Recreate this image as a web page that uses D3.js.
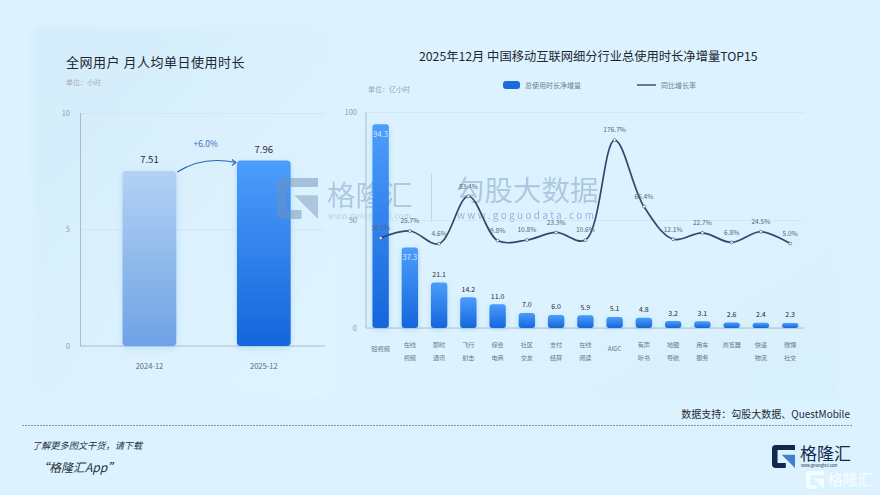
<!DOCTYPE html>
<html>
<head>
<meta charset="utf-8">
<script src="https://cdn.jsdelivr.net/npm/d3@7"></script>
<style>
html, body { margin: 0; padding: 0; background: #dcf3ff; }
svg { display: block; }
text { font-family: "Noto Sans CJK SC", "Noto Sans", sans-serif; }
</style>
</head>
<body>
<div id="canvas"></div>
<script>
// left chart
const months = ["2024-12", "2025-12"];
const hours = [7.51, 7.96];
const hourTicks = [0, 5, 10];

// right chart
const industries = ["短视频", "在线视频", "即时通讯", "飞行射击", "综合电商", "社区交友", "支付结算", "在线阅读", "AIGC", "有声听书", "地图导航", "用车服务", "浏览器", "快递物流", "微博社交"];
const netGrowth = [94.3, 37.3, 21.1, 14.2, 11.0, 7.0, 6.0, 5.9, 5.1, 4.8, 3.2, 3.1, 2.6, 2.4, 2.3];
const yoyRate = [14.1, 25.7, 4.6, 83.4, 9.8, 10.8, 23.3, 10.6, 176.7, 66.4, 12.1, 22.7, 6.8, 24.5, 5.0];
const growthTicks = [0, 50, 100];

const width = 880;
const height = 495;

const svg = d3.select("#canvas").append("svg")
    .attr("width", width)
    .attr("height", height);

const defs = svg.append("defs");

function gradient(id, stops, x2, y2) {
    const g = defs.append("linearGradient").attr("id", id)
        .attr("x1", 0).attr("y1", 0).attr("x2", x2).attr("y2", y2);
    stops.forEach(s => g.append("stop").attr("offset", s[0]).attr("stop-color", s[1]));
}
gradient("panelLeft", [[0, "#d3ecfa"], [0.55, "#dbf1fd"], [1, "#dff4ff"]], 1, 1);
gradient("panelRight", [[0, "#dcf2fe"], [0.6, "#dcf2fe"], [1, "#d7f0fc"]], 1, 1);
gradient("barOld", [[0, "#b3d2f3"], [1, "#6ea2e6"]], 0, 1);
gradient("barNew", [[0, "#4c9dfc"], [1, "#1565dc"]], 0, 1);

const blur = defs.append("filter").attr("id", "soft")
    .attr("x", "-30%").attr("y", "-10%").attr("width", "160%").attr("height", "120%");
blur.append("feDropShadow").attr("dx", 0).attr("dy", 2).attr("stdDeviation", 3)
    .attr("flood-color", "#2f7fe0").attr("flood-opacity", 0.18);

const panelBlur = defs.append("filter").attr("id", "panelBlur");
panelBlur.append("feGaussianBlur").attr("stdDeviation", 5);

svg.append("rect").attr("width", width).attr("height", height).attr("fill", "#dcf3ff");
svg.append("rect").attr("x", 33).attr("y", 27).attr("width", 300).attr("height", 368)
    .attr("fill", "url(#panelLeft)").attr("filter", "url(#panelBlur)");
svg.append("rect").attr("x", 340).attr("y", 110).attr("width", 498).attr("height", 290)
    .attr("fill", "url(#panelRight)").attr("filter", "url(#panelBlur)");

function label(parent, x, y, str, size, color, anchor) {
    return parent.append("text")
        .attr("x", x).attr("y", y)
        .attr("dy", "0.35em")
        .attr("text-anchor", anchor || "middle")
        .attr("font-size", size)
        .attr("fill", color)
        .text(str);
}

function styleAxis(sel) {
    sel.select(".domain").remove();
    sel.selectAll("text").attr("fill", "#8f9eaa").attr("font-size", 7.5);
}

// ---- left chart ----
const yLeft = d3.scaleLinear().domain([0, 10]).range([346, 113]);
const xLeft = d3.scaleBand().domain(months).range([92.25, 321]).paddingInner(0.53).paddingOuter(0.265);

label(svg, 66, 62, "全网用户 月人均单日使用时长", 13, "#1d2730", "start").attr("letter-spacing", 0.5);
label(svg, 66, 83, "单位：小时", 7, "#a3afb9", "start");

const gridLeft = svg.append("g").attr("transform", "translate(80,0)")
    .call(d3.axisLeft(yLeft).tickValues(hourTicks).tickSize(-245).tickPadding(10).tickFormat(d3.format("d")));
styleAxis(gridLeft);
gridLeft.selectAll("line").attr("stroke", "#cfe4f0").attr("stroke-width", 0.7);

svg.append("line").attr("x1", 80.5).attr("x2", 80.5).attr("y1", yLeft(10)).attr("y2", yLeft(0))
    .attr("stroke", "#a9bccb").attr("stroke-width", 1);
svg.append("line").attr("x1", 80).attr("x2", 325).attr("y1", yLeft(0)).attr("y2", yLeft(0))
    .attr("stroke", "#aec3d4").attr("stroke-width", 1.2);

svg.selectAll(".bar-left").data(months).enter().append("rect")
    .attr("class", "bar-left")
    .attr("x", d => xLeft(d))
    .attr("y", (d, i) => yLeft(hours[i]))
    .attr("width", xLeft.bandwidth())
    .attr("height", (d, i) => yLeft(0) - yLeft(hours[i]))
    .attr("rx", 4)
    .attr("fill", (d, i) => i === 0 ? "url(#barOld)" : "url(#barNew)")
    .attr("filter", "url(#soft)");

months.forEach((m, i) => {
    const cx = xLeft(m) + xLeft.bandwidth() / 2;
    label(svg, cx, yLeft(hours[i]) - 11, hours[i].toFixed(2), 9.5, "#1f2a33");
    label(svg, cx, 366, m, 7.5, "#5c6a76");
});

// arrow between the two bars
const ax = xLeft(months[0]) + xLeft.bandwidth() + 1;
const ay = yLeft(hours[0]) + 1;
const bx = xLeft(months[1]) - 1;
const by = yLeft(hours[1]) + 2;
svg.append("path")
    .attr("d", `M${ax},${ay}Q${(ax + bx) / 2 - 4},${by - 7} ${bx},${by}`)
    .attr("fill", "none").attr("stroke", "#2d62b5").attr("stroke-width", 1.1);
svg.append("path")
    .attr("d", `M${bx - 4},${by - 3}L${bx},${by}L${bx - 4},${by + 3}`)
    .attr("fill", "none").attr("stroke", "#2d62b5").attr("stroke-width", 1.1);
label(svg, (ax + bx) / 2 - 1, 144, "+6.0%", 8.5, "#3f72b5");

// ---- watermark ----
function drawG(parent, x, y, w, h, dark, light, opacity) {
    const g = parent.append("g")
        .attr("transform", `translate(${x},${y}) scale(${w / 100},${h / 100})`)
        .attr("opacity", opacity);
    g.append("path").attr("fill", dark)
        .attr("d", "M16,0H100V22H24V78H60V100H16Q0,100 0,84V16Q0,0 16,0Z");
    g.append("path").attr("fill", light)
        .attr("d", "M42,42H100V100Z");
}
const mark = svg.append("g");
drawG(mark, 277, 178, 41, 41, "#6f92bb", "#7f9cbf", 0.5);
label(mark, 327, 196, "格隆汇", 28.5, "#7d9cc0", "start").attr("opacity", 0.48);
label(mark, 328, 216, "www.gelonghui.com", 7.5, "#7d9cc0", "start").attr("opacity", 0.42).attr("letter-spacing", 0.7);
mark.append("line").attr("x1", 431.5).attr("x2", 431.5).attr("y1", 173).attr("y2", 222)
    .attr("stroke", "#7d9cc0").attr("opacity", 0.3);
label(mark, 456, 191, "勾股大数据", 28.5, "#7d9cc0", "start").attr("opacity", 0.48);
label(mark, 457, 215, "www.goguodata.com", 10, "#6f93c4", "start").attr("opacity", 0.65).attr("letter-spacing", 2.35);

// ---- right chart ----
const yRight = d3.scaleLinear().domain([0, 100]).range([328, 112]);
const yRate = d3.scaleLinear().domain([0, 200]).range([246.5, 126]);
const xRight = d3.scaleBand().domain(industries).range([366, 804.75]).paddingInner(0.44).paddingOuter(0.22);
const center = d => xRight(d) + xRight.bandwidth() / 2;

label(svg, 419, 57, "2025年12月 中国移动互联网细分行业总使用时长净增量TOP15", 12.28, "#1d2730", "start");
label(svg, 368, 90, "单位：亿小时", 7, "#97a5b0", "start");

svg.append("rect").attr("x", 503).attr("y", 81).attr("width", 17).attr("height", 8).attr("rx", 3).attr("fill", "#1b6ddd");
label(svg, 525, 85.5, "总使用时长净增量", 7, "#6f8090", "start");
svg.append("line").attr("x1", 637).attr("x2", 656).attr("y1", 85).attr("y2", 85).attr("stroke", "#3b5478").attr("stroke-width", 1.5);
label(svg, 661, 85.5, "同比增长率", 7, "#6f8090", "start");

const gridRight = svg.append("g").attr("transform", "translate(366,0)")
    .call(d3.axisLeft(yRight).tickValues(growthTicks).tickSize(-438).tickPadding(9));
styleAxis(gridRight);
gridRight.selectAll("line").attr("stroke", "#cfe4f0").attr("stroke-width", 0.7);

svg.append("line").attr("x1", 366).attr("x2", 366).attr("y1", yRight(100)).attr("y2", yRight(0))
    .attr("stroke", "#a9bccb").attr("stroke-width", 1);
svg.append("line").attr("x1", 366).attr("x2", 804).attr("y1", yRight(0)).attr("y2", yRight(0))
    .attr("stroke", "#aec3d4").attr("stroke-width", 1.2);

svg.selectAll(".bar").data(industries).enter().append("rect")
    .attr("class", "bar")
    .attr("x", d => xRight(d))
    .attr("y", (d, i) => yRight(netGrowth[i]))
    .attr("width", xRight.bandwidth())
    .attr("height", (d, i) => yRight(0) - yRight(netGrowth[i]))
    .attr("rx", 3)
    .attr("fill", "url(#barNew)")
    .attr("filter", "url(#soft)");

industries.forEach((name, i) => {
    const cx = center(name);
    const v = netGrowth[i];
    // the two tall bars carry their value inside, in white
    if (v > 30) {
        label(svg, cx, yRight(v) + 10, v.toFixed(1), 7.5, "#d8ecff");
    } else {
        label(svg, cx, yRight(v) - 8, v.toFixed(1), 7, "#1f2a33");
    }
    if (name.length === 4 && name !== "AIGC") {
        label(svg, cx, 345, name.slice(0, 2), 6.2, "#6b7885");
        label(svg, cx, 358, name.slice(2), 6.2, "#6b7885");
    } else {
        label(svg, cx, name === "浏览器" ? 345 : 348.5, name, 6.2, "#6b7885");
    }
});

const rateLine = d3.line()
    .x((d, i) => center(industries[i]))
    .y(d => yRate(d))
    .curve(d3.curveCatmullRom.alpha(0.5));

svg.append("path").datum(yoyRate)
    .attr("d", rateLine)
    .attr("fill", "none")
    .attr("stroke", "#2f4a6d")
    .attr("stroke-width", 1.7);

svg.selectAll(".pt").data(yoyRate).enter().append("circle")
    .attr("class", "pt")
    .attr("cx", (d, i) => center(industries[i]))
    .attr("cy", d => yRate(d))
    .attr("r", 1.5)
    .attr("fill", "#ffffff")
    .attr("stroke", "#2f4a6d")
    .attr("stroke-width", 0.6);

yoyRate.forEach((d, i) => {
    label(svg, center(industries[i]), yRate(d) - 10, d.toFixed(1) + "%", 6.6, "#54677a");
});

// ---- footer ----
label(svg, 850, 414, "数据支持：勾股大数据、QuestMobile", 10, "#1f2a33", "end");
svg.append("line").attr("x1", 22).attr("x2", 853).attr("y1", 425.5).attr("y2", 425.5)
    .attr("stroke", "#5a6a78").attr("stroke-width", 0.7).attr("stroke-dasharray", "2 1");

label(svg, 32, 446, "了解更多图文干货，请下载", 9.2, "#25303a", "start").attr("font-style", "italic");
label(svg, 37, 468, "“格隆汇App”", 12, "#25303a", "start").attr("font-style", "italic");

drawG(svg, 772, 445, 23, 23, "#12294d", "#3f82c9", 1);
label(svg, 800, 454, "格隆汇", 17, "#12294d", "start");
label(svg, 801, 466, "www.gelonghui.com", 3.8, "#12294d", "start");
drawG(svg, 806, 471, 18, 18, "#ffffff", "#ffffff", 0.75);
label(svg, 828, 480, "格隆汇", 15, "#ffffff", "start").attr("opacity", 0.8);
</script>
</body>
</html>
